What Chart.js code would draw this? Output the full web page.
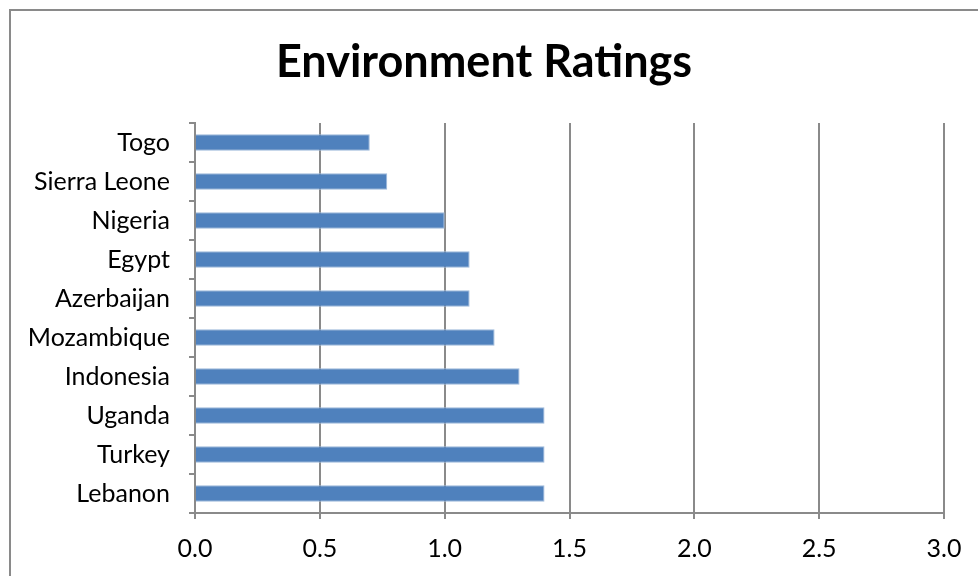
<!DOCTYPE html>
<html>
<head>
<meta charset="utf-8">
<script src="https://cdn.jsdelivr.net/npm/chart.js@4/dist/chart.umd.min.js"></script>
<style>
  html, body { margin: 0; padding: 0; overflow: hidden; background: #fff; }
  #frame { position: absolute; left: 9px; top: 9px; width: 1100px; height: 700px; border: 2px solid #8a8a8a; }
  #wrap { position: absolute; left: 0; top: 0; width: 978px; height: 576px; }
</style>
</head>
<body>
<div id="frame"></div>
<div id="wrap"><canvas id="chartjs" width="978" height="576"></canvas></div>
<script>
// data
const countries = ['Togo', 'Sierra Leone', 'Nigeria', 'Egypt', 'Azerbaijan',
  'Mozambique', 'Indonesia', 'Uganda', 'Turkey', 'Lebanon'];
const ratings = [0.7, 0.77, 1.0, 1.1, 1.1, 1.2, 1.3, 1.4, 1.4, 1.4];
const xTicks = [0, 0.5, 1.0, 1.5, 2.0, 2.5, 3.0];

const gray = '#8a8a8a';
const font = 'Lato, "Open Sans", sans-serif';

drawChart('chartjs', {
  type: 'bar',
  data: {
    labels: countries,
    datasets: [{
      label: 'Environment Ratings',
      data: ratings,
      backgroundColor: '#4F81BD',
      borderColor: '#9db8da',
      borderWidth: 1,
      barPercentage: 0.42,
      categoryPercentage: 1
    }]
  },
  options: {
    indexAxis: 'y',
    responsive: false,
    animation: false,
    layout: { padding: { top: 35, right: 34, left: 24, bottom: 0 } },
    plugins: {
      legend: { display: false },
      tooltip: { enabled: false },
      title: {
        display: true,
        text: 'Environment Ratings',
        color: '#000',
        font: { family: font, size: 45, weight: 'bold' },
        padding: { top: 0, bottom: 34 }
      }
    },
    scales: {
      x: {
        min: 0,
        max: 3,
        afterBuildTicks: scale => { scale.ticks = xTicks.map(v => ({ value: v })); },
        afterFit: scale => { scale.height = 63; },
        grid: { color: gray, lineWidth: 2, tickLength: 6, drawTicks: true },
        border: { color: gray, width: 2 },
        ticks: {
          color: '#000',
          padding: 15,
          font: { family: font, size: 25 },
          callback: v => Number(v).toFixed(1)
        }
      },
      y: {
        afterFit: scale => { scale.width = 171; },
        grid: { drawOnChartArea: false, color: gray, lineWidth: 2, tickLength: 6 },
        border: { color: gray, width: 2 },
        ticks: {
          color: '#000',
          padding: 19,
          font: { family: font, size: 25 }
        }
      }
    }
  }
});

function drawChart(id, config) {
  const ctx = document.getElementById(id).getContext('2d');
  new Chart(ctx, config);
}
</script>
</body>
</html>
